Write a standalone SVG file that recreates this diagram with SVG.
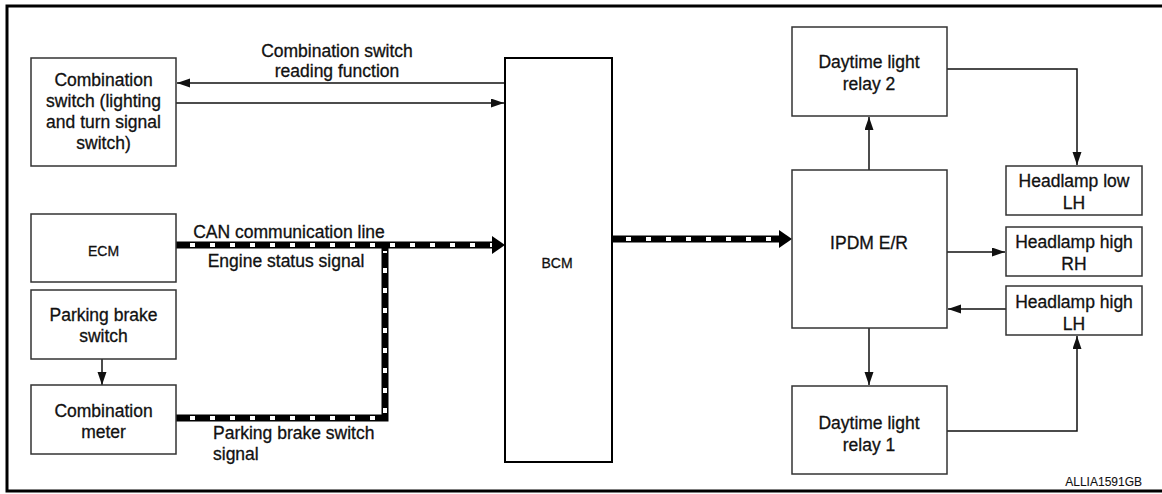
<svg xmlns="http://www.w3.org/2000/svg" width="1162" height="494" viewBox="0 0 1162 494">
<defs>
<style>
.box{fill:#fff;stroke:#333;stroke-width:1.5}
.t{font-family:"Liberation Sans",Arial,sans-serif;font-size:17.5px;fill:#111;stroke:#111;stroke-width:0.3;text-anchor:middle}
.s{font-size:14px}
.ln{fill:none;stroke:#111;stroke-width:1.5}
.can{fill:none;stroke:#000;stroke-width:7;stroke-linejoin:miter}
.canw{fill:none;stroke:#fff;stroke-width:4;stroke-dasharray:5 15}
</style>
<marker id="ah" markerUnits="userSpaceOnUse" markerWidth="14" markerHeight="10" refX="13" refY="4.5" orient="auto">
<path d="M0,0 L13,4.5 L0,9 z" fill="#111"/>
</marker>
</defs>
<rect width="1162" height="494" fill="#fff"/>
<path d="M1166 6 H7 V491 H1166" fill="none" stroke="#000" stroke-width="3"/>

<g id="connectors">
<line class="ln" x1="504" y1="83" x2="177" y2="83" marker-end="url(#ah)"/>
<line class="ln" x1="176" y1="103" x2="504" y2="103" marker-end="url(#ah)"/>
<line class="ln" x1="102" y1="359" x2="102" y2="385" marker-end="url(#ah)"/>
<path class="can" d="M176 245 H494"/>
<path class="canw" d="M190 245 H494"/>
<path class="can" d="M176 418 H385 V245"/>
<path class="canw" d="M190 418 H385 V251"/>
<polygon points="492,236 505,245 492,254" fill="#000"/>
<path class="can" d="M612 239 H781"/>
<path class="canw" d="M626 239 H781"/>
<polygon points="779,230 792,239 779,248" fill="#000"/>
<line class="ln" x1="869" y1="170" x2="869" y2="117" marker-end="url(#ah)"/>
<polyline class="ln" points="947,69 1077,69 1077,165" marker-end="url(#ah)"/>
<line class="ln" x1="947" y1="252" x2="1005" y2="252" marker-end="url(#ah)"/>
<line class="ln" x1="1006" y1="309" x2="948" y2="309" marker-end="url(#ah)"/>
<line class="ln" x1="869" y1="328" x2="869" y2="385" marker-end="url(#ah)"/>
<polyline class="ln" points="947,431 1077,431 1077,336" marker-end="url(#ah)"/>
<text class="t" x="337" y="57">Combination switch</text>
<text class="t" x="337" y="77">reading function</text>
<text class="t" x="289" y="238">CAN communication line</text>
<text class="t" x="286" y="267">Engine status signal</text>
<text class="t" x="213" y="439" style="text-anchor:start">Parking brake switch</text>
<text class="t" x="213" y="460" style="text-anchor:start">signal</text>
</g>

<g id="comb-switch">
<rect class="box" x="31" y="58" width="145" height="108"/>
<text class="t" x="103.5" y="86">Combination</text>
<text class="t" x="103.5" y="107">switch (lighting</text>
<text class="t" x="103.5" y="128">and turn signal</text>
<text class="t" x="103.5" y="149">switch)</text>
</g>
<g id="ecm">
<rect class="box" x="31" y="214" width="145" height="68"/>
<text class="t s" x="103.5" y="256">ECM</text>
</g>
<g id="parking-brake">
<rect class="box" x="31" y="290" width="145" height="69"/>
<text class="t" x="103.5" y="321">Parking brake</text>
<text class="t" x="103.5" y="342">switch</text>
</g>
<g id="comb-meter">
<rect class="box" x="31" y="385" width="145" height="69"/>
<text class="t" x="103.5" y="417">Combination</text>
<text class="t" x="103.5" y="438">meter</text>
</g>
<g id="bcm">
<rect x="505" y="58" width="107" height="404" fill="#fff" stroke="#000" stroke-width="2"/>
<text class="t s" x="557" y="268">BCM</text>
</g>
<g id="ipdm">
<rect class="box" x="792" y="170" width="155" height="158"/>
<text class="t" x="869" y="249">IPDM E/R</text>
</g>
<g id="dlr2">
<rect class="box" x="792" y="27" width="155" height="89"/>
<text class="t" x="869" y="68">Daytime light</text>
<text class="t" x="869" y="90">relay 2</text>
</g>
<g id="dlr1">
<rect class="box" x="792" y="386" width="155" height="88"/>
<text class="t" x="869" y="429">Daytime light</text>
<text class="t" x="869" y="451">relay 1</text>
</g>
<g id="hl-low-lh">
<rect class="box" x="1006" y="166" width="136" height="49"/>
<text class="t" x="1074" y="187">Headlamp low</text>
<text class="t" x="1074" y="209">LH</text>
</g>
<g id="hl-high-rh">
<rect class="box" x="1006" y="227" width="136" height="49"/>
<text class="t" x="1074" y="248">Headlamp high</text>
<text class="t" x="1074" y="270">RH</text>
</g>
<g id="hl-high-lh">
<rect class="box" x="1006" y="286" width="136" height="49"/>
<text class="t" x="1074" y="308">Headlamp high</text>
<text class="t" x="1074" y="330">LH</text>
</g>
<text class="t" x="1142" y="486" style="font-size:12px;stroke-width:0.1;text-anchor:end">ALLIA1591GB</text>
</svg>
